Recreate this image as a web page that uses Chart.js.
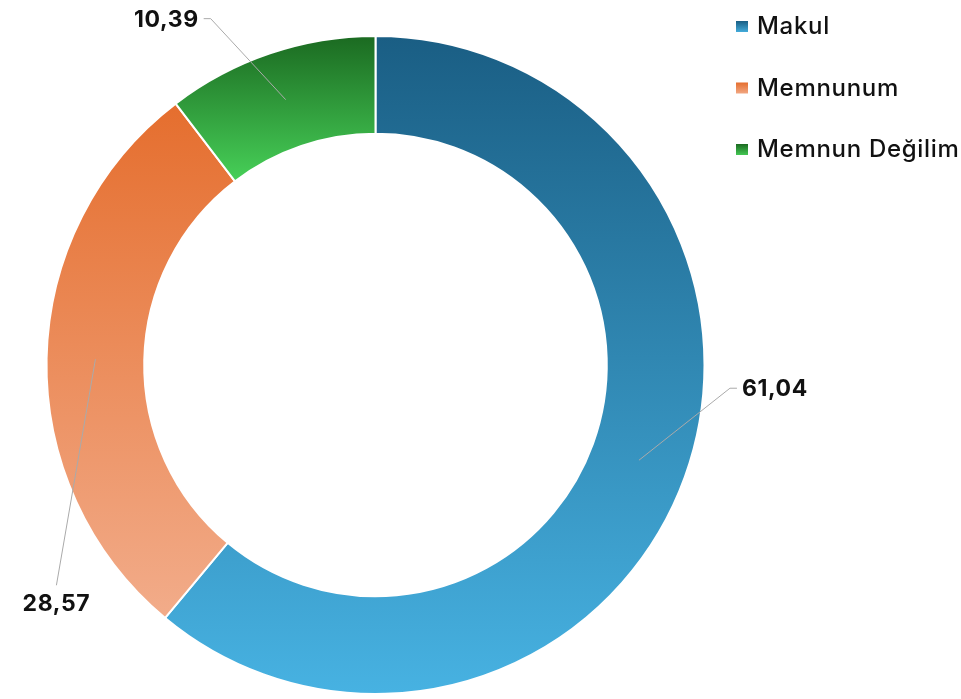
<!DOCTYPE html>
<html>
<head>
<meta charset="utf-8">
<script src="https://cdn.jsdelivr.net/npm/chart.js@4.4.1/dist/chart.umd.min.js"></script>
<style>
  html, body { margin: 0; padding: 0; background: #ffffff; }
  #wrap { width: 961px; height: 699px; position: relative; }
</style>
</head>
<body>
<div id="wrap"><canvas id="c" width="961" height="699"></canvas></div>
<script>
// ---- data ----
const categories = ["Makul", "Memnunum", "Memnun Değilim"];
const values = [61.04, 28.57, 10.39];
const valueLabels = ["61,04", "28,57", "10,39"];

// ---- styles ----
const gradTop = ["#1a5e84", "#e56e2e", "#1b6a21"];
const gradBottom = ["#47b2e2", "#f2ac8a", "#47d058"];
// label leader geometry relative to the segment anchor
const leaderStyle = [
  { dx: 91, dy: -72, tail: 7, side: "right" },
  { dx: -39, dy: 226, tail: 0, side: "below" },
  { dx: -75, dy: -81, tail: -7, side: "left" }
];
const legendStyle = { x: 736, y0: 27, step: 61.5, box: 12, textX: 757 };

function arcBBox(a) {
  const angles = [a.startAngle, a.endAngle];
  for (let k = -4; k <= 8; k++) {
    const t = k * Math.PI / 2;
    if (t > a.startAngle && t < a.endAngle) angles.push(t);
  }
  let minY = Infinity, maxY = -Infinity;
  for (const t of angles) {
    for (const r of [a.innerRadius, a.outerRadius]) {
      const y = a.y + r * Math.sin(t);
      minY = Math.min(minY, y); maxY = Math.max(maxY, y);
    }
  }
  return { minY, maxY };
}

const gradientPlugin = {
  id: "segGradients",
  beforeDatasetsDraw(chart) {
    const ctx = chart.ctx;
    const meta = chart.getDatasetMeta(0);
    meta.data.forEach((arc, i) => {
      const bb = arcBBox(arc);
      const g = ctx.createLinearGradient(0, bb.minY, 0, bb.maxY);
      g.addColorStop(0, gradTop[i]);
      g.addColorStop(1, gradBottom[i]);
      arc.options.backgroundColor = g;
    });
  }
};

const labelPlugin = {
  id: "leaderLabels",
  afterDatasetsDraw(chart) {
    const ctx = chart.ctx;
    const meta = chart.getDatasetMeta(0);
    ctx.save();
    meta.data.forEach((arc, i) => {
      const mid = (arc.startAngle + arc.endAngle) / 2;
      const r = (arc.innerRadius + arc.outerRadius) / 2;
      const ax = arc.x + r * Math.cos(mid);
      const ay = arc.y + r * Math.sin(mid);
      const s = leaderStyle[i];
      const ex = ax + s.dx, ey = ay + s.dy;
      ctx.strokeStyle = "#aaaaaa";
      ctx.lineWidth = 1;
      ctx.beginPath();
      ctx.moveTo(ax, ay);
      ctx.lineTo(ex, ey);
      ctx.lineTo(ex + s.tail, ey);
      ctx.stroke();
      ctx.fillStyle = "#111111";
      ctx.font = "bold 23px Inter, 'Liberation Sans', sans-serif";
      ctx.letterSpacing = "0.6px";
      if (s.side === "right") {
        ctx.textAlign = "left"; ctx.textBaseline = "middle";
        ctx.fillText(valueLabels[i], ex + s.tail + 5, ey + 1);
      } else if (s.side === "left") {
        ctx.textAlign = "right"; ctx.textBaseline = "middle";
        ctx.fillText(valueLabels[i], ex + s.tail - 5, ey + 1);
      } else {
        ctx.textAlign = "center"; ctx.textBaseline = "top";
        ctx.fillText(valueLabels[i], ex, ey + 7);
      }
    });
    ctx.restore();
  }
};

const legendPlugin = {
  id: "customLegend",
  afterDraw(chart) {
    const ctx = chart.ctx;
    ctx.save();
    categories.forEach((name, i) => {
      const cy = legendStyle.y0 + i * legendStyle.step;
      const b = legendStyle.box;
      const g = ctx.createLinearGradient(0, cy - b / 2, 0, cy + b / 2);
      g.addColorStop(0, gradTop[i]);
      g.addColorStop(1, gradBottom[i]);
      ctx.fillStyle = g;
      ctx.fillRect(legendStyle.x, cy - b / 2, b, b - 1);
      ctx.fillStyle = "#111111";
      ctx.font = "500 24px Inter, 'Liberation Sans', sans-serif";
      ctx.letterSpacing = "0.7px";
      ctx.textAlign = "left";
      ctx.textBaseline = "middle";
      ctx.fillText(name, legendStyle.textX, cy);
    });
    ctx.restore();
  }
};

new Chart(document.getElementById("c"), {
  type: "doughnut",
  data: {
    labels: categories,
    datasets: [{
      data: values,
      backgroundColor: gradTop,
      borderColor: "#ffffff",
      borderWidth: 2
    }]
  },
  options: {
    responsive: false,
    animation: false,
    cutout: "70.3%",
    layout: { padding: { top: 35, bottom: 4, left: 45, right: 255 } },
    plugins: {
      legend: { display: false },
      tooltip: { enabled: false }
    }
  },
  plugins: [gradientPlugin, labelPlugin, legendPlugin]
});
</script>
</body>
</html>
